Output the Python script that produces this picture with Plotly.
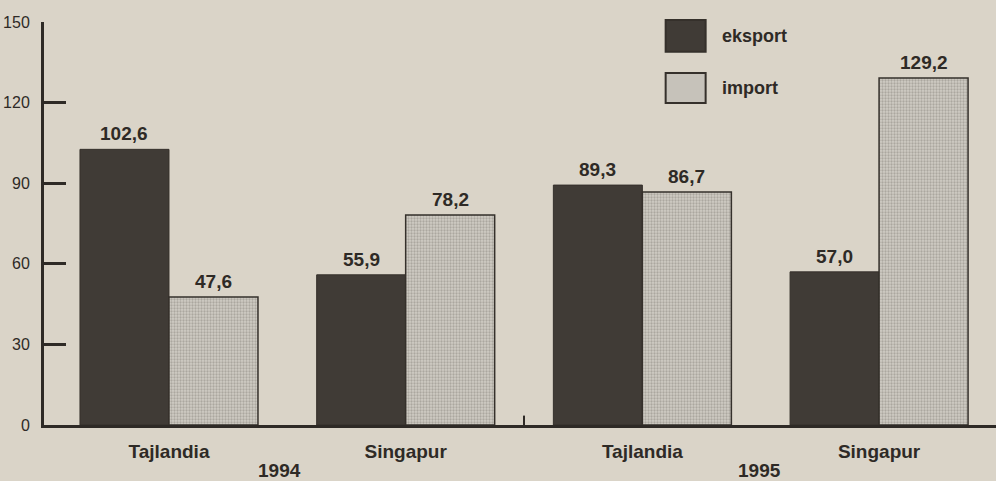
import plotly.graph_objects as go

groups = ["Tajlandia", "Singapur", "Tajlandia", "Singapur"]
years = ["1994", "1995"]
eksport = [102.6, 55.9, 89.3, 57.0]
import_ = [47.6, 78.2, 86.7, 129.2]
y_ticks = [0, 30, 60, 90, 120, 150]
series_names = ["eksport", "import"]

BG = "#dad4c8"
INK = "#2e2a26"
DARK = "#403b36"
LIGHT = "#cbc7bf"
FONT = "Liberation Sans, Arial, sans-serif"

xpos = list(range(len(groups)))
half = 0.188
width = 0.376

fig = go.Figure()
fig.add_trace(go.Bar(
    x=[p - half for p in xpos], y=eksport, width=width, name=series_names[0],
    marker=dict(color=DARK, line=dict(color="#35302b", width=1)),
))
fig.add_trace(go.Bar(
    x=[p + half for p in xpos], y=import_, width=width, name=series_names[1],
    marker=dict(color=LIGHT, line=dict(color="#35302b", width=1.5),
                pattern=dict(shape=".", fgcolor="#86817a", bgcolor="#d0ccc4",
                             size=3, solidity=0.45)),
))

def fmt(v):
    return f"{v:.1f}".replace(".", ",")

annotations = []
for p, v in zip(xpos, eksport):
    annotations.append(dict(x=p - half, y=v, text=f"<b>{fmt(v)}</b>", showarrow=False,
                            yanchor="bottom", yshift=3, font=dict(size=19, color=INK, family=FONT)))
for p, v in zip(xpos, import_):
    annotations.append(dict(x=p + half, y=v, text=f"<b>{fmt(v)}</b>", showarrow=False,
                            yanchor="bottom", yshift=3, font=dict(size=19, color=INK, family=FONT)))
# year labels under the pairs of groups
for yr, xc in zip(years, [0.469, 2.493]):
    annotations.append(dict(x=xc, xref="x", y=0, yref="paper", text=f"<b>{yr}</b>", showarrow=False,
                            yanchor="middle", yshift=-45, font=dict(size=19, color=INK, family=FONT)))

# manual legend
shapes = []
legend_rows = [(series_names[0], DARK, 1.005, 0.926, 0.965), (series_names[1], "#c6c2ba", 0.8735, 0.799, 0.836)]
for name, col, y1, y0, yc in legend_rows:
    shapes.append(dict(type="rect", xref="paper", yref="paper", x0=0.653, x1=0.695, y0=y0, y1=y1,
                       fillcolor=col, line=dict(color="#35302b", width=2)))
    annotations.append(dict(x=0.71, xref="paper", y=yc, yref="paper", text=f"<b>{name}</b>",
                            showarrow=False, xanchor="left", yanchor="middle",
                            font=dict(size=18, color=INK, family=FONT)))
# separator tick between years
shapes.append(dict(type="line", xref="x", yref="y", x0=1.5, x1=1.5, y0=0, y1=3.5,
                   line=dict(color=INK, width=2)))

fig.update_layout(
    width=996, height=481,
    margin=dict(l=44, r=0, t=22, b=56),
    paper_bgcolor=BG, plot_bgcolor=BG,
    showlegend=False,
    barmode="overlay",
    annotations=annotations,
    shapes=shapes,
    xaxis=dict(range=[-0.528, 3.494], tickvals=xpos, ticktext=[f"<b>{g}</b>" for g in groups],
               ticks="", showgrid=False, zeroline=False, showline=True, linewidth=3, linecolor=INK,
               tickfont=dict(size=19, color=INK, family=FONT), ticklabelstandoff=7),
    yaxis=dict(range=[0, 150], tickvals=y_ticks, ticks="inside", ticklen=22, tickwidth=3,
               tickcolor=INK, showgrid=False, zeroline=False, showline=True, linewidth=3,
               linecolor=INK, tickfont=dict(size=16, color=INK, family=FONT), ticklabelstandoff=8),
)

fig.write_html("out.html", config={"displayModeBar": False},
               post_script="document.body.style.margin='0';document.body.style.background='" + BG + "';")
